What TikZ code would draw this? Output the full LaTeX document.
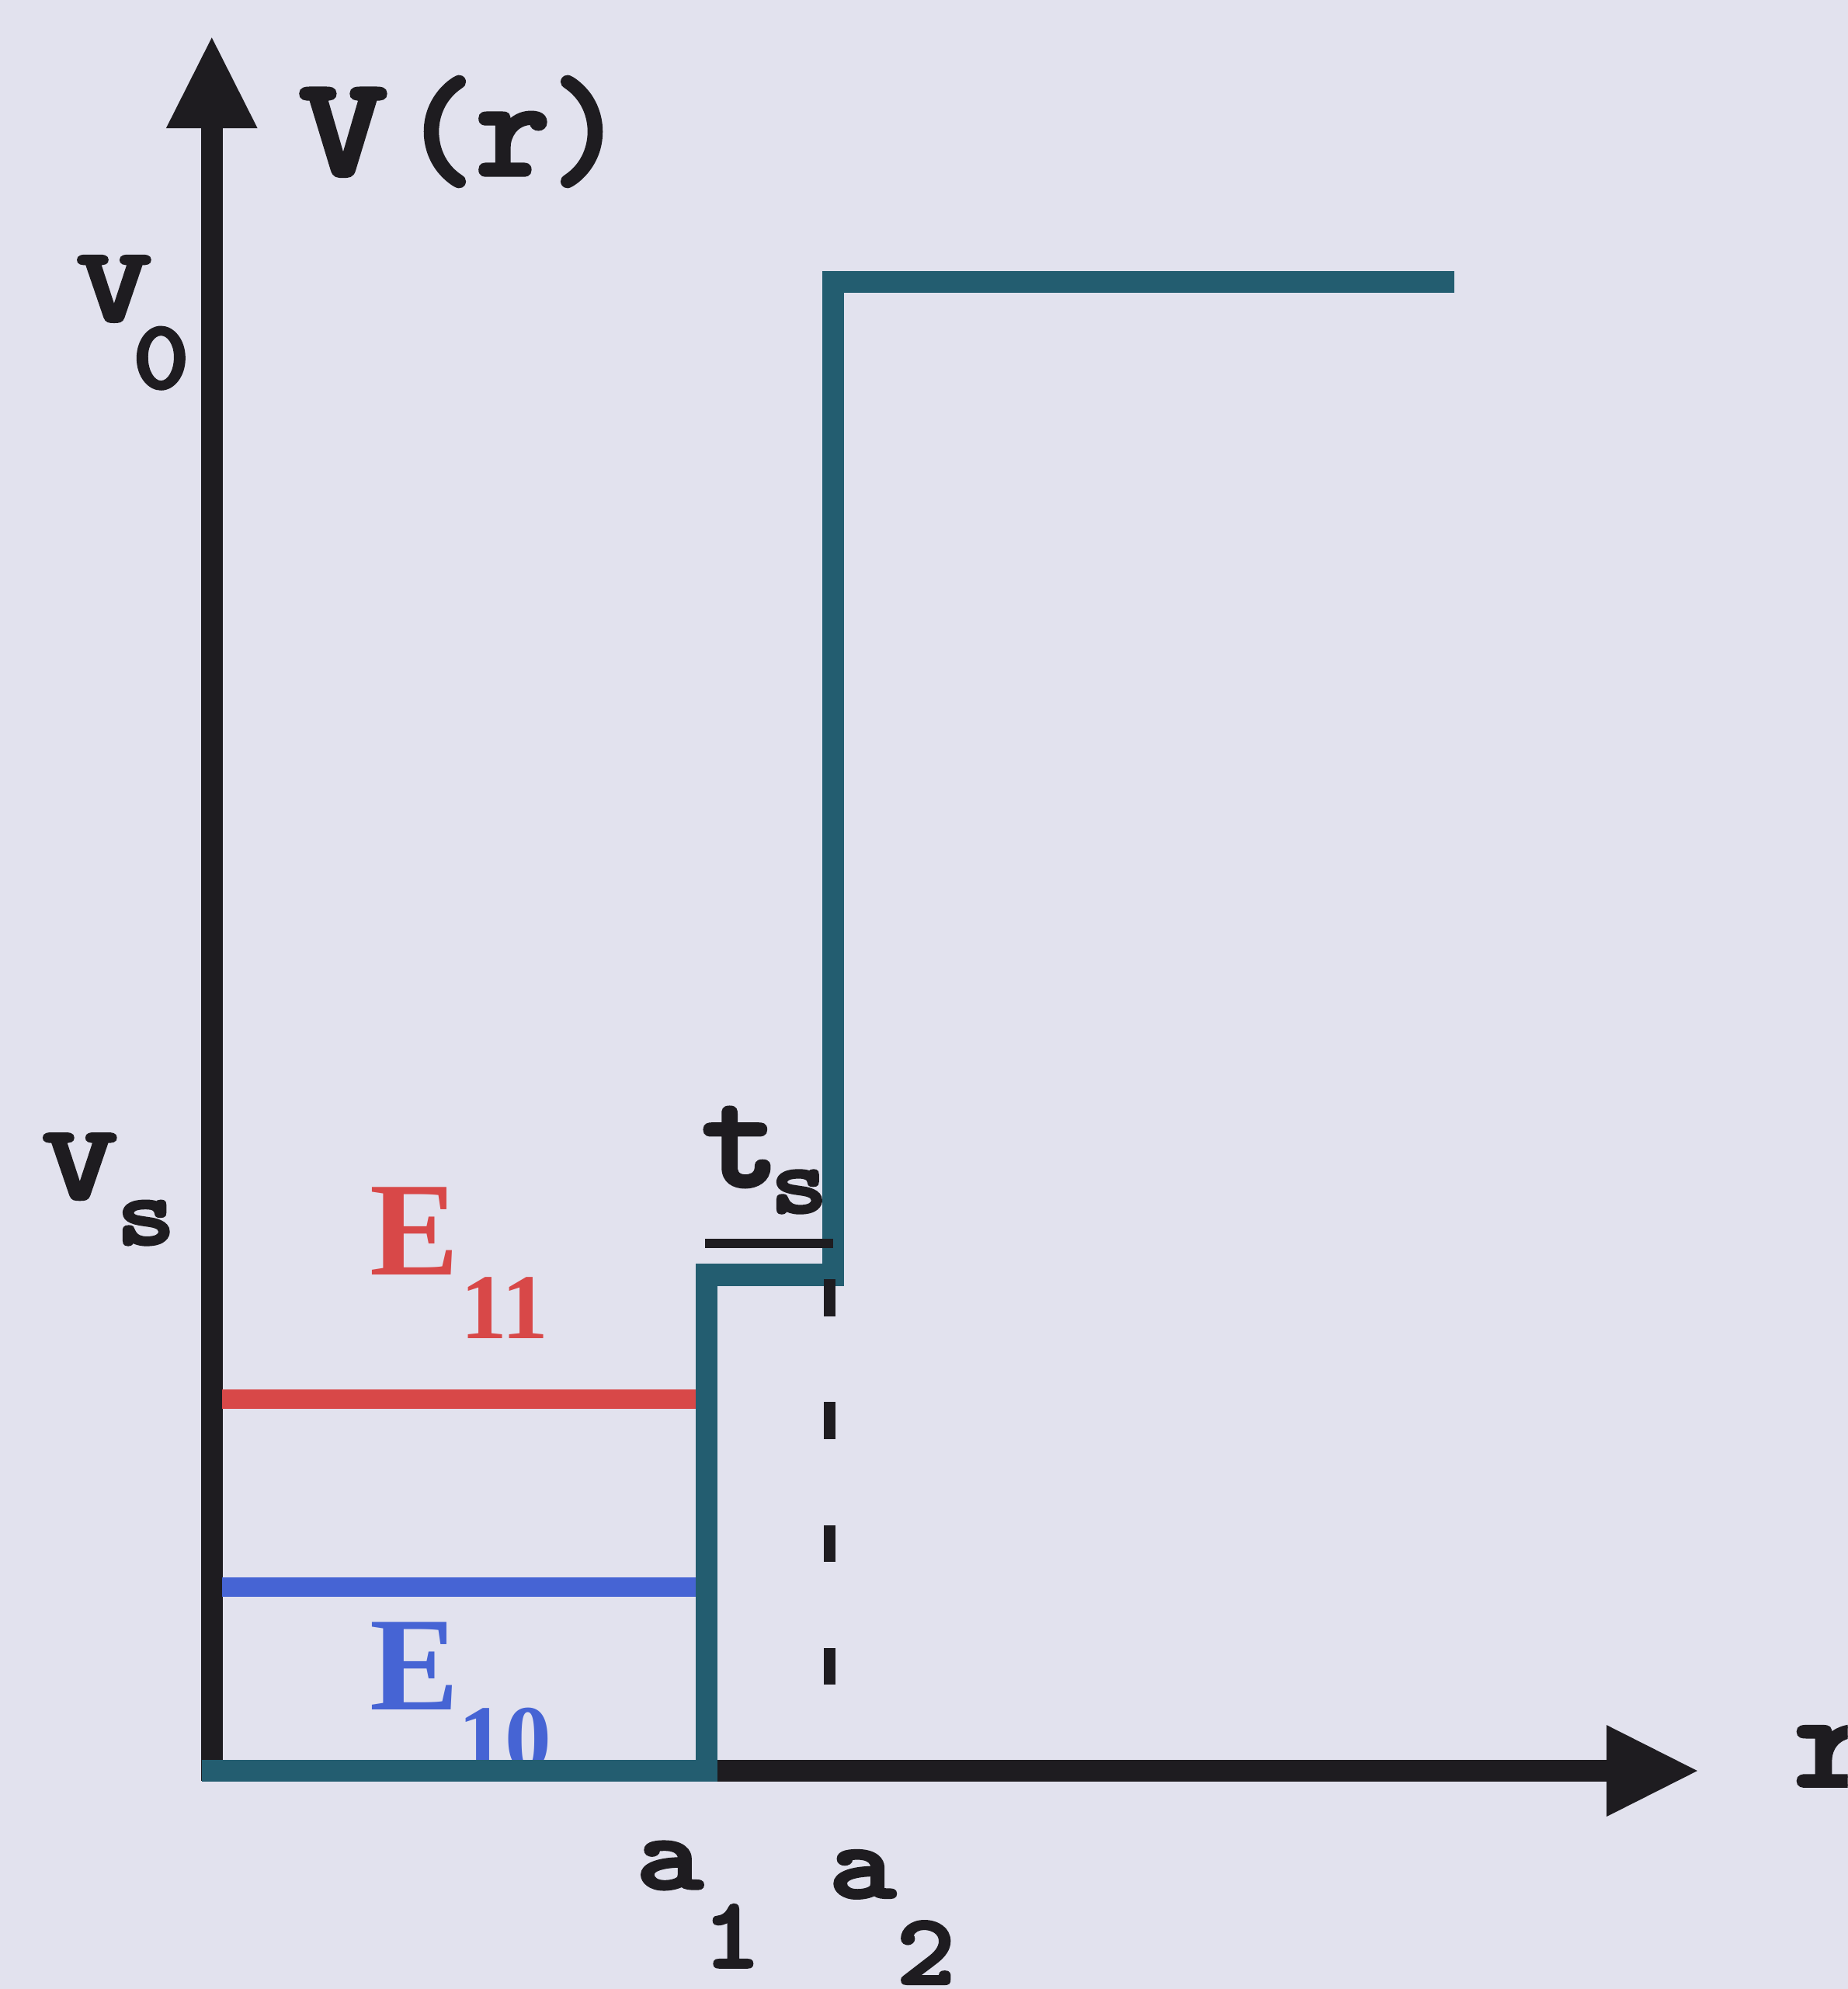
\documentclass[tikz,border=0pt]{standalone}
\usepackage{fontspec}
\usepackage{graphicx}
\setmainfont{Liberation Serif}
\newfontfamily\courfam{lmmonolt10-bold.otf}[FakeBold=2.5]
\usetikzlibrary{arrows.meta}
\definecolor{bgc}{RGB}{226,226,238}
\definecolor{axc}{RGB}{30,28,32}
\definecolor{tealc}{RGB}{35,93,112}
\definecolor{redc}{RGB}{216,72,72}
\definecolor{bluec}{RGB}{70,100,212}
\newcommand{\cw}[3]{\scalebox{#2}[1]{\courfam\fontsize{#1}{#1}\selectfont #3}}
\begin{document}
\begin{tikzpicture}[x=0.016335cm,y=-0.016335cm,
  axis/.style={draw=axc,line width=8pt,-{Triangle[length=34pt,width=31pt]}},
  pot/.style={draw=tealc,line width=8pt,line join=miter},
  eline/.style={line width=7pt},
  dashline/.style={draw=axc,line width=4.2pt,dash pattern=on 13.5pt off 31.5pt},
  tsline/.style={draw=axc,line width=3.4pt},
  lab/.style={inner sep=0pt,anchor=base,text=axc},
  elab/.style={inner sep=0pt,anchor=base}]
\useasboundingbox (0,0) rectangle (1457,1568);
\fill[bgc] (0,0) rectangle (1457,1568);
\clip (0,0) rectangle (1457,1568);
% coordinates
\coordinate (ybot) at (167,1404);
\coordinate (ytip) at (167,28);
\coordinate (xleft) at (159,1396);
\coordinate (xtip) at (1340,1396);
\coordinate (p0) at (159,1396);
\coordinate (p1) at (557,1396);
\coordinate (p2) at (557,1005);
\coordinate (p3) at (657,1005);
\coordinate (p4) at (657,222);
\coordinate (p5) at (1147,222);
\coordinate (r1) at (175,1103);
\coordinate (r2) at (550,1103);
\coordinate (b1) at (175,1251);
\coordinate (b2) at (550,1251);
\coordinate (d1) at (654,1328);
\coordinate (d2) at (654,1005);
\coordinate (t1) at (556,980);
\coordinate (t2) at (657,980);
% energy labels
\node[elab,text=redc,font={\bfseries\fontsize{49}{52}\selectfont}] (E11) at (327,1005) {E};
\node[elab,text=redc,font={\bfseries\fontsize{34}{36}\selectfont}] (E11s) at (398,1055) {11};
\node[elab,text=bluec,font={\bfseries\fontsize{49}{52}\selectfont}] (E10) at (327,1348) {E};
\node[elab,text=bluec,font={\bfseries\fontsize{34}{36}\selectfont}] (E10s) at (398,1395) {10};
% axes
\draw[axis] (ybot) -- (ytip);
\draw[axis] (xleft) -- (xtip);
% energy levels
\draw[eline,redc] (r1) -- (r2);
\draw[eline,bluec] (b1) -- (b2);
% potential
\draw[pot] (p0) -- (p1) -- (p2) -- (p3) -- (p4) -- (p5);
\draw[dashline] (d1) -- (d2);
\draw[tsline] (t1) -- (t2);
% labels
\node[lab,anchor=base west] (Vr) at (235,138) {\courfam\fontsize{52}{52}\selectfont\scalebox{1.2}[1]{V}\kern5pt(r)};
\node[lab] (V0) at (90,253) {\cw{39}{1.35}{V}};
\node[lab] (V0s) at (127,306) {\cw{36}{1.1}{0}};
\node[lab] (Vs) at (63,945) {\cw{39}{1.35}{V}};
\node[lab] (Vss) at (115,981) {\cw{36}{1.15}{s}};
\node[lab] (ts) at (584,935) {\cw{52}{1.05}{t}};
\node[lab] (tss) at (630,956) {\cw{35}{1.15}{s}};
\node[lab] (a1) at (528,1489) {\cw{39}{1.2}{a}};
\node[lab] (a1s) at (577,1551) {\cw{37}{1.1}{1}};
\node[lab] (a2) at (680,1496) {\cw{39}{1.2}{a}};
\node[lab] (a2s) at (730,1564) {\cw{37}{1.1}{2}};
\node[lab,anchor=base west] (rl) at (1414,1408) {\cw{50}{1.15}{r}};
\end{tikzpicture}
\end{document}
